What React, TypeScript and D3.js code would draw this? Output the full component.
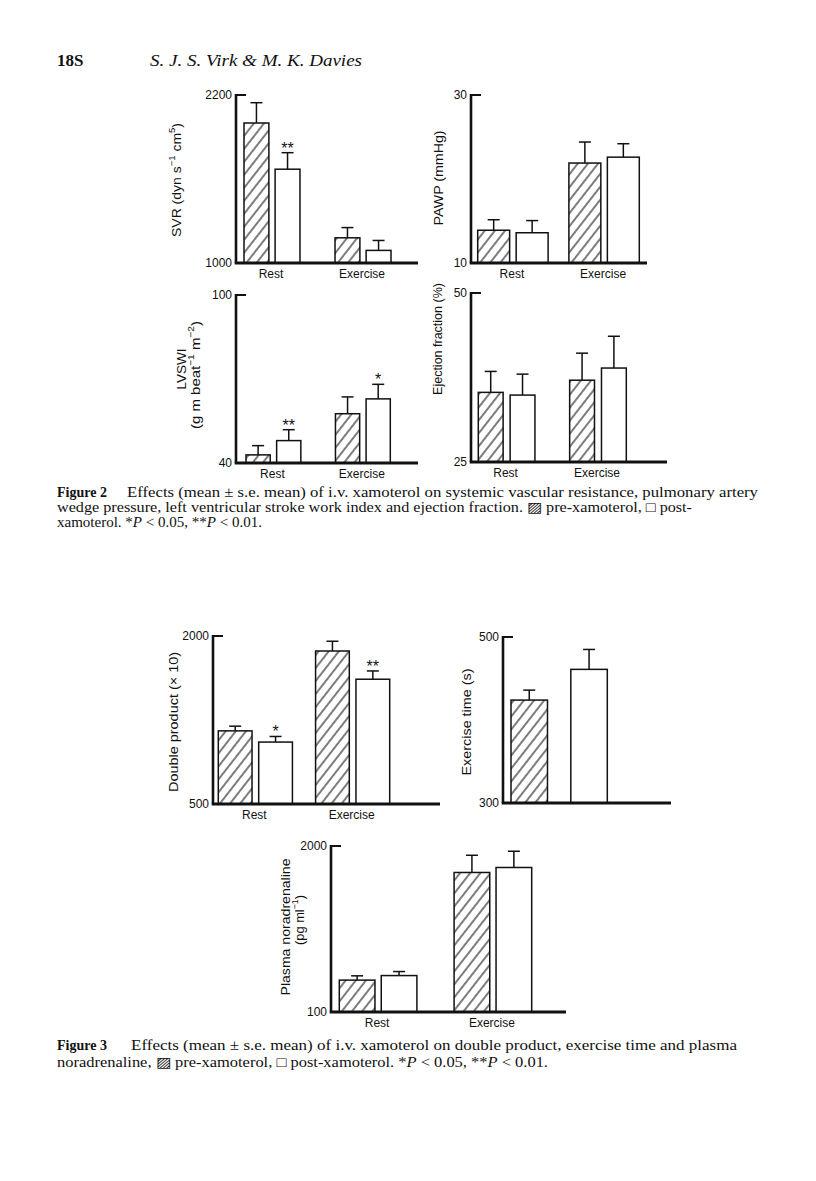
import React from "react";
import * as d3 from "d3";

// ---------- data ----------
const groups = ["Rest", "Exercise"];
const exGroups = ["Exercise"];
const series = ["pre", "post"];

const svrPre = [2000, 1180];
const svrPreSE = [145, 73];
const svrPost = [1670, 1090];
const svrPostSE = [118, 71];
const svrSig = ["**", ""];

const pawpPre = [13.9, 21.9];
const pawpPreSE = [1.25, 2.5];
const pawpPost = [13.6, 22.6];
const pawpPostSE = [1.45, 1.6];

const lvswiPre = [42.9, 57.6];
const lvswiPreSE = [3.3, 6.0];
const lvswiPost = [48.0, 62.9];
const lvswiPostSE = [3.9, 5.2];
const lvswiSig = ["**", "*"];

const efPre = [35.3, 37.1];
const efPreSE = [3.1, 4.0];
const efPost = [34.9, 38.9];
const efPostSE = [3.1, 4.7];

const dpPre = [1153, 1866];
const dpPreSE = [42, 87];
const dpPost = [1053, 1614];
const dpPostSE = [50, 74];
const dpSig = ["*", "**"];

const etPre = [424];
const etPreSE = [12];
const etPost = [461];
const etPostSE = [24];

const pnPre = [465, 1697];
const pnPreSE = [49, 197];
const pnPost = [517, 1754];
const pnPostSE = [46, 186];

const svrTicks = [1000, 2200];
const pawpTicks = [10, 30];
const lvswiTicks = [40, 100];
const efTicks = [25, 50];
const dpTicks = [500, 2000];
const etTicks = [300, 500];
const pnTicks = [100, 2000];

// ---------- layout ----------
type Seg = { t: string; sup?: boolean };
type TitleLine = { x: number; y: number; segs: Seg[]; len?: number; size?: number };
type Panel = {
  id: string;
  groups: string[];
  showX: boolean;
  pre: number[];
  preSE: number[];
  post: number[];
  postSE: number[];
  sig?: string[];
  ticks: number[];
  axisX: number;
  topY: number;
  baseY: number;
  xEnd: number;
  groupRange: [number, number];
  groupPad: number;
  subPad: number;
  title: TitleLine[];
};

const panels: Panel[] = [
  {
    id: "svr", groups, showX: true, pre: svrPre, preSE: svrPreSE, post: svrPost, postSE: svrPostSE, sig: svrSig,
    ticks: svrTicks, axisX: 236, topY: 95, baseY: 263, xEnd: 418, groupRange: [244, 391], groupPad: 0.385, subPad: 0.2,
    title: [{ x: 176, y: 180, len: 114, segs: [{ t: "SVR (dyn s" }, { t: "−1", sup: true }, { t: " cm" }, { t: "5", sup: true }, { t: ")" }] }],
  },
  {
    id: "pawp", groups, showX: true, pre: pawpPre, preSE: pawpPreSE, post: pawpPost, postSE: pawpPostSE,
    ticks: pawpTicks, axisX: 471, topY: 95, baseY: 263, xEnd: 647, groupRange: [477.7, 639.3], groupPad: 0.228, subPad: 0.17,
    title: [{ x: 438, y: 178, len: 95, segs: [{ t: "PAWP (mmHg)" }] }],
  },
  {
    id: "lvswi", groups, showX: true, pre: lvswiPre, preSE: lvswiPreSE, post: lvswiPost, postSE: lvswiPostSE, sig: lvswiSig,
    ticks: lvswiTicks, axisX: 236, topY: 295, baseY: 463, xEnd: 418, groupRange: [246, 390.3], groupPad: 0.387, subPad: 0.21,
    title: [
      { x: 181, y: 369, segs: [{ t: "LVSWI" }] },
      { x: 195, y: 375, len: 108, segs: [{ t: "(g m beat" }, { t: "−1", sup: true }, { t: " m" }, { t: "−2", sup: true }, { t: ")" }] },
    ],
  },
  {
    id: "ef", groups, showX: true, pre: efPre, preSE: efPreSE, post: efPost, postSE: efPostSE,
    ticks: efTicks, axisX: 471, topY: 293, baseY: 462, xEnd: 667, groupRange: [478.3, 626.3], groupPad: 0.38, subPad: 0.22,
    title: [{ x: 438, y: 339, size: 12.5, segs: [{ t: "Ejection fraction (%)" }] }],
  },
  {
    id: "dp", groups, showX: true, pre: dpPre, preSE: dpPreSE, post: dpPost, postSE: dpPostSE, sig: dpSig,
    ticks: dpTicks, axisX: 213, topY: 636, baseY: 804, xEnd: 440, groupRange: [218.3, 389.7], groupPad: 0.238, subPad: 0.165,
    title: [{ x: 173, y: 722, len: 140, segs: [{ t: "Double product (× 10)" }] }],
  },
  {
    id: "et", groups: exGroups, showX: false, pre: etPre, preSE: etPreSE, post: etPost, postSE: etPostSE,
    ticks: etTicks, axisX: 503, topY: 637, baseY: 803, xEnd: 671, groupRange: [511, 607.3], groupPad: 0, subPad: 0.39,
    title: [{ x: 466, y: 722, len: 107, segs: [{ t: "Exercise time (s)" }] }],
  },
  {
    id: "pn", groups, showX: true, pre: pnPre, preSE: pnPreSE, post: pnPost, postSE: pnPostSE,
    ticks: pnTicks, axisX: 331, topY: 846, baseY: 1012, xEnd: 566, groupRange: [339.3, 531.7], groupPad: 0.324, subPad: 0.15,
    title: [
      { x: 285, y: 927, len: 137, segs: [{ t: "Plasma noradrenaline" }] },
      { x: 299, y: 920, len: 50, segs: [{ t: "(pg ml" }, { t: "−1", sup: true }, { t: ")" }] },
    ],
  },
];

const SANS = "'Liberation Sans', Arial, Helvetica, sans-serif";
const SERIF = "'Liberation Serif', 'Times New Roman', serif";

function TitleText({ line }: { line: TitleLine }) {
  const size = line.size ?? 13.5;
  const parts: React.ReactNode[] = [];
  let shifted = false;
  line.segs.forEach((s, i) => {
    if (s.sup) {
      parts.push(
        <tspan key={i} dy={-4.5} fontSize={size * 0.68}>{s.t}</tspan>
      );
      shifted = true;
    } else {
      parts.push(
        <tspan key={i} dy={shifted ? 4.5 : 0} fontSize={size}>{s.t}</tspan>
      );
      shifted = false;
    }
  });
  const extra: any = line.len ? { textLength: line.len, lengthAdjust: "spacingAndGlyphs" } : {};
  return (
    <text
      transform={`translate(${line.x},${line.y}) rotate(-90)`}
      textAnchor="middle"
      dominantBaseline="central"
      fontFamily={SANS}
      fontSize={size}
      fill="#111"
      {...extra}
    >
      {parts}
    </text>
  );
}

function BarPanel({ p }: { p: Panel }) {
  const y = d3.scaleLinear().domain([p.ticks[0], p.ticks[1]]).range([p.baseY, p.topY]);
  const gx = d3.scaleBand<string>().domain(p.groups).range(p.groupRange).paddingInner(p.groupPad).paddingOuter(0);
  const sx = d3.scaleBand<string>().domain(series).range([0, gx.bandwidth()]).paddingInner(p.subPad).paddingOuter(0);
  const fmt = d3.format("d");
  const cap = 6;

  return (
    <g>
      {p.groups.map((g, gi) =>
        series.map((s) => {
          const mean = s === "pre" ? p.pre[gi] : p.post[gi];
          const se = s === "pre" ? p.preSE[gi] : p.postSE[gi];
          const x0 = (gx(g) ?? 0) + (sx(s) ?? 0);
          const w = sx.bandwidth();
          const cx = x0 + w / 2;
          const yTop = y(mean);
          const yErr = y(mean + se);
          const sig = s === "post" && p.sig ? p.sig[gi] : "";
          return (
            <g key={g + s}>
              <line x1={cx} x2={cx} y1={yTop} y2={yErr} stroke="#111" strokeWidth={1.5} />
              <line x1={cx - cap} x2={cx + cap} y1={yErr} y2={yErr} stroke="#111" strokeWidth={1.5} />
              <rect
                x={x0}
                y={yTop}
                width={w}
                height={p.baseY - yTop}
                fill={s === "pre" ? "url(#hatch)" : "#fff"}
                stroke="#111"
                strokeWidth={1.5}
              />
              {sig && (
                <text x={cx} y={yErr + 1} textAnchor="middle" fontFamily={SANS} fontSize={16} fill="#111">
                  {sig}
                </text>
              )}
            </g>
          );
        })
      )}
      {/* axes */}
      <line x1={p.axisX} x2={p.axisX} y1={p.baseY} y2={y(p.ticks[1]) - 1} stroke="#111" strokeWidth={2.6} />
      <line x1={p.axisX} x2={p.axisX + 10} y1={y(p.ticks[1])} y2={y(p.ticks[1])} stroke="#111" strokeWidth={2} />
      <line x1={p.axisX - 1.3} x2={p.xEnd} y1={p.baseY} y2={p.baseY} stroke="#111" strokeWidth={2.8} />
      {p.ticks.map((t) => (
        <text
          key={t}
          x={p.axisX - 4}
          y={y(t)}
          textAnchor="end"
          dominantBaseline="central"
          fontFamily={SANS}
          fontSize={12}
          fill="#111"
        >
          {fmt(t)}
        </text>
      ))}
      {p.showX &&
        p.groups.map((g) => (
          <text
            key={g}
            x={(gx(g) ?? 0) + gx.bandwidth() / 2 - 1}
            y={p.baseY + 15}
            textAnchor="middle"
            fontFamily={SANS}
            fontSize={12}
            fill="#111"
          >
            {g}
          </text>
        ))}
      {p.title.map((l, i) => (
        <TitleText key={i} line={l} />
      ))}
    </g>
  );
}

export default function App() {
  return (
    <svg
      width={816}
      height={1181}
      viewBox="0 0 816 1181"
      style={{ position: "absolute", left: 0, top: 0, background: "#fff" }}
    >
      <defs>
        <pattern id="hatch" patternUnits="userSpaceOnUse" width={8} height={8} patternTransform="rotate(38)">
          <rect width={8} height={8} fill="#fff" />
          <line x1={4} y1={0} x2={4} y2={8} stroke="#111" strokeWidth={1.1} />
        </pattern>
      </defs>
      <rect width={816} height={1181} fill="#fff" />

      {/* running header */}
      <text x={57} y={66} fontFamily={SERIF} fontSize={17} fontWeight="bold" fill="#111">18S</text>
      <text x={150} y={66} fontFamily={SERIF} fontSize={17} fontStyle="italic" fill="#111" textLength={212} lengthAdjust="spacingAndGlyphs">
        S. J. S. Virk &amp; M. K. Davies
      </text>

      {panels.map((p) => (
        <BarPanel key={p.id} p={p} />
      ))}

      {/* Figure 2 caption */}
      <g fontFamily={SERIF} fontSize={14} fill="#111">
        <text x={57} y={497} fontWeight="bold">Figure 2</text>
        <text x={127} y={497} textLength={631} lengthAdjust="spacingAndGlyphs">
          Effects (mean ± s.e. mean) of i.v. xamoterol on systemic vascular resistance, pulmonary artery
        </text>
        <text x={57} y={512} textLength={635} lengthAdjust="spacingAndGlyphs">
          wedge pressure, left ventricular stroke work index and ejection fraction. ▨ pre-xamoterol, □ post-
        </text>
        <text x={57} y={527} textLength={205} lengthAdjust="spacingAndGlyphs">
          xamoterol. *<tspan fontStyle="italic">P</tspan> &lt; 0.05, **<tspan fontStyle="italic">P</tspan> &lt; 0.01.
        </text>

        {/* Figure 3 caption */}
        <text x={57} y={1050} fontWeight="bold">Figure 3</text>
        <text x={131} y={1050} textLength={606} lengthAdjust="spacingAndGlyphs">
          Effects (mean ± s.e. mean) of i.v. xamoterol on double product, exercise time and plasma
        </text>
        <text x={57} y={1067} textLength={491} lengthAdjust="spacingAndGlyphs">
          noradrenaline, ▨ pre-xamoterol, □ post-xamoterol. *<tspan fontStyle="italic">P</tspan> &lt; 0.05, **
          <tspan fontStyle="italic">P</tspan> &lt; 0.01.
        </text>
      </g>
    </svg>
  );
}
